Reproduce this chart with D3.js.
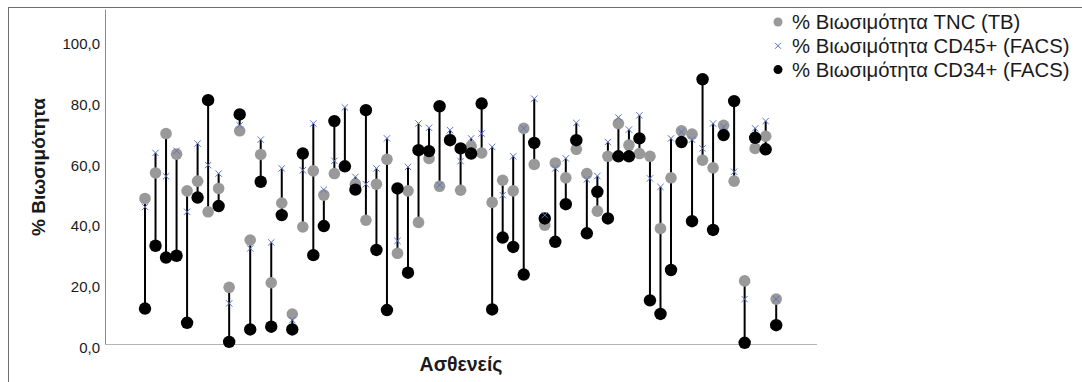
<!DOCTYPE html>
<html>
<head>
<meta charset="utf-8">
<script src="https://cdn.jsdelivr.net/npm/d3@7"></script>
<style>
  html, body { margin: 0; padding: 0; background: #fff; }
  svg { display: block; }
  text { font-family: "Liberation Sans", Arial, sans-serif; fill: #1a1a1a; }
</style>
</head>
<body>
<svg id="chart" width="1082" height="382"></svg>
<script>
// ---- data ----
const patients = d3.range(1, 62).map(i => "P" + i);
const tnc = [48.0, 56.4, 69.4, 62.6, 50.5, 53.7, 43.6, 51.3, 18.7, 70.3,
             34.3, 62.5, 20.2, 46.5, 9.9, 38.6, 57.1, 49.1, 56.2, 58.6,
             52.7, 40.8, 52.7, 60.9, 29.9, 50.5, 40.1, 61.2, 52.0, 67.5,
             50.7, 65.2, 63.0, 46.7, 54.0, 50.5, 71.1, 59.2, 39.2, 59.7,
             54.8, 64.2, 56.2, 43.8, 61.9, 72.7, 65.6, 62.8, 61.9, 38.1,
             54.8, 70.3, 69.2, 60.6, 58.1, 72.1, 53.7, 20.8, 64.5, 68.5, 14.8];
const cd45 = [45.2, 63.0, 55.3, 63.7, 43.6, 66.1, 59.0, 56.2, 13.4, 72.1,
              31.5, 67.4, 33.5, 57.9, 7.9, 57.3, 72.7, 50.9, 60.4, 78.0,
              55.1, 52.7, 57.9, 67.8, 34.0, 58.4, 72.7, 71.3, 52.4, 70.5,
              60.3, 67.8, 69.4, 65.0, 49.1, 61.9, 71.1, 80.9, 42.5, 57.9,
              61.2, 72.9, 54.3, 55.4, 66.6, 74.7, 70.7, 75.4, 54.6, 51.8,
              67.8, 69.9, 67.4, 64.5, 72.7, 71.6, 56.8, 14.8, 71.1, 73.5, 14.8];
const cd34 = [11.7, 32.4, 28.5, 29.1, 7.0, 48.3, 80.4, 45.5, 0.7, 75.7,
              4.8, 53.5, 5.7, 42.5, 4.8, 62.8, 29.3, 38.9, 73.5, 58.6,
              50.9, 77.1, 31.0, 11.2, 51.3, 23.5, 63.9, 63.6, 78.4, 67.2,
              64.5, 62.8, 79.3, 11.4, 35.1, 32.0, 22.9, 66.3, 41.4, 33.7,
              46.1, 67.2, 36.5, 50.2, 41.4, 61.9, 61.9, 67.8, 14.4, 9.9,
              24.4, 66.6, 40.5, 87.3, 37.6, 68.9, 80.1, 0.4, 68.0, 64.2, 6.2];
const yTicks = [0, 20, 40, 60, 80, 100];
const seriesNames = ["% Βιωσιμότητα TNC (TB)", "% Βιωσιμότητα CD45+ (FACS)", "% Βιωσιμότητα CD34+ (FACS)"];
const xTitle = "Ασθενείς";
const yTitle = "% Βιωσιμότητα";

// ---- layout ----
const svg = d3.select("#chart");
const plot = { left: 105, right: 817, top: 9.5, bottom: 344 };
const x = d3.scalePoint().domain(patients).range([145, 776.2]);
const y = d3.scaleLinear().domain([0, 110.3]).range([plot.bottom, plot.top]);

const colGray = "#999999", colBlack = "#000000", colX = "#5a74c4";

// frame
svg.append("rect").attr("x", 8.5).attr("y", 7.5).attr("width", 1100).attr("height", 400)
  .attr("fill", "none").attr("stroke", "#6e6e6e").attr("stroke-width", 1);

// axes
const yAxis = d3.axisLeft(y).tickValues(yTicks).tickSize(0).tickPadding(5)
  .tickFormat(d => d3.format(".1f")(d).replace(".", ","));
const gy = svg.append("g").attr("transform", `translate(${plot.left},0)`).call(yAxis);
gy.select(".domain").remove();
gy.selectAll("text").attr("font-size", 15).attr("dy", "0.55em").attr("fill", "#1a1a1a")
  .attr("font-family", "'Liberation Sans', Arial, sans-serif");
svg.append("line").attr("x1", plot.left + 0.5).attr("x2", plot.left + 0.5)
  .attr("y1", plot.top).attr("y2", plot.bottom).attr("stroke", "#8c8c8c");
svg.append("line").attr("x1", plot.left).attr("x2", plot.right)
  .attr("y1", plot.bottom + 0.5).attr("y2", plot.bottom + 0.5).attr("stroke", "#b4b4b4");

// titles
svg.append("text").attr("transform", `translate(45,167) rotate(-90)`)
  .attr("text-anchor", "middle").attr("font-size", 19).attr("font-weight", "bold").text(yTitle);
svg.append("text").attr("x", 461).attr("y", 371)
  .attr("text-anchor", "middle").attr("font-size", 19.5).attr("font-weight", "bold").text(xTitle);

// data rows
const rows = patients.map((p, i) => ({ p, t: tnc[i], c45: cd45[i], c34: cd34[i] }));
const g = svg.append("g");
g.selectAll("line.hl").data(rows).join("line").attr("class", "hl")
  .attr("x1", d => x(d.p)).attr("x2", d => x(d.p))
  .attr("y1", d => y(Math.max(d.t, d.c45, d.c34)))
  .attr("y2", d => y(Math.min(d.t, d.c45, d.c34)))
  .attr("stroke", "#000").attr("stroke-width", 2);
g.selectAll("circle.tnc").data(rows).join("circle").attr("class", "tnc")
  .attr("cx", d => x(d.p)).attr("cy", d => y(d.t)).attr("r", 5.8).attr("fill", colGray);
g.selectAll("circle.cd34").data(rows).join("circle").attr("class", "cd34")
  .attr("cx", d => x(d.p)).attr("cy", d => y(d.c34)).attr("r", 6.2).attr("fill", colBlack);
const xs = 3.2;
g.selectAll("path.cd45").data(rows).join("path").attr("class", "cd45")
  .attr("d", d => {
    const cx = x(d.p), cy = y(d.c45);
    return `M${cx - xs},${cy - xs}L${cx + xs},${cy + xs}M${cx - xs},${cy + xs}L${cx + xs},${cy - xs}`;
  })
  .attr("stroke", colX).attr("stroke-width", 1).attr("fill", "none");

// legend
const lg = svg.append("g").attr("transform", "translate(778,22)");
const ls = 23.8;
seriesNames.forEach((name, i) => {
  const row = lg.append("g").attr("transform", `translate(0,${i * ls})`);
  if (i === 0) row.append("circle").attr("r", 4.5).attr("fill", colGray);
  if (i === 1) row.append("path").attr("d", "M-3,-3L3,3M-3,3L3,-3").attr("stroke", colX).attr("fill", "none");
  if (i === 2) row.append("circle").attr("r", 4.5).attr("fill", colBlack);
  row.append("text").attr("x", 14).attr("dy", "0.36em").attr("font-size", 20.3).text(name);
});
</script>
</body>
</html>
